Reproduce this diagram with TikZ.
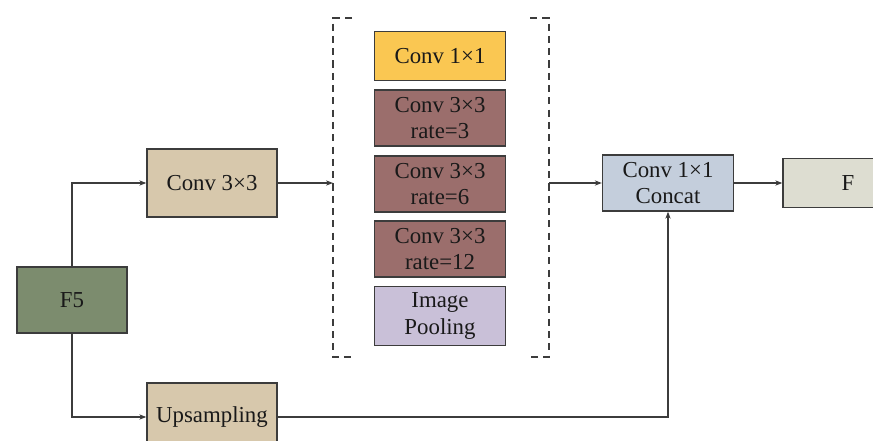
\documentclass[tikz,border=0pt]{standalone}
\usepackage{fontspec}
\setmainfont{Liberation Serif}
\newfontfamily\timesfont{Liberation Serif}
\usetikzlibrary{arrows.meta}

\definecolor{greenbox}{RGB}{124,140,110}
\definecolor{tanbox}{RGB}{215,200,172}
\definecolor{yellowbox}{RGB}{250,199,82}
\definecolor{mauvebox}{RGB}{155,110,108}
\definecolor{lilacbox}{RGB}{201,192,216}
\definecolor{bluebox}{RGB}{196,206,220}
\definecolor{greybox}{RGB}{221,221,209}
\definecolor{edgegrey}{RGB}{60,60,60}

\begin{document}
\begin{tikzpicture}[x=0.02cm,y=-0.02cm,
  blk/.style={draw=edgegrey,line width=0.8pt,align=center,inner sep=0pt,
    font=\timesfont\fontsize{13}{15}\selectfont,text=black!90},
  arr/.style={draw=edgegrey,line width=0.6pt,-{Stealth[length=4pt,width=3pt]}},
  bracket/.style={draw=edgegrey,line width=0.6pt,dash pattern=on 4pt off 3pt}]

\path[use as bounding box,clip] (0,0) rectangle (873,440);

% input and first stage
\node[blk,fill=greenbox,minimum width=2.2cm,minimum height=1.32cm] (f5) at (72,300) {F5};
\node[blk,fill=tanbox,minimum width=2.6cm,minimum height=1.36cm] (conv3) at (212,183) {Conv 3×3};
\node[blk,fill=tanbox,minimum width=2.6cm,minimum height=1.36cm] (up) at (212,417) {Upsampling};

% parallel branches
\node[blk,fill=yellowbox,minimum width=2.62cm,minimum height=0.98cm] (c1) at (440,56) {Conv 1×1};
\node[blk,fill=mauvebox,minimum width=2.62cm,minimum height=1.12cm] (r3) at (440,118) {Conv 3×3\\rate=3};
\node[blk,fill=mauvebox,minimum width=2.62cm,minimum height=1.12cm] (r6) at (440,184) {Conv 3×3\\rate=6};
\node[blk,fill=mauvebox,minimum width=2.62cm,minimum height=1.12cm] (r12) at (440,249) {Conv 3×3\\rate=12};
\node[blk,fill=lilacbox,minimum width=2.62cm,minimum height=1.18cm] (pool) at (440,316) {Image\\Pooling};

% dashed brackets
\draw[bracket] (352,18) -- (333,18) -- (333,357) -- (352,357);
\draw[bracket] (530,18) -- (549,18) -- (549,357) -- (530,357);
\coordinate (bl) at (333,183);
\coordinate (br) at (549,183);

% output
\node[blk,fill=bluebox,minimum width=2.62cm,minimum height=1.12cm] (concat) at (668,183) {Conv 1×1\\Concat};
\node[blk,fill=greybox,minimum width=2.6cm,minimum height=0.98cm] (out) at (848,183) {F};

% connectors
\draw[arr] (f5.north) |- (conv3.west);
\draw[arr] (f5.south) |- (up.west);
\draw[arr] (conv3.east) -- (bl);
\draw[arr] (br) -- (concat.west);
\draw[arr] (concat.east) -- (out.west);
\draw[arr] (up.east) -| (concat.south);
\end{tikzpicture}
\end{document}
